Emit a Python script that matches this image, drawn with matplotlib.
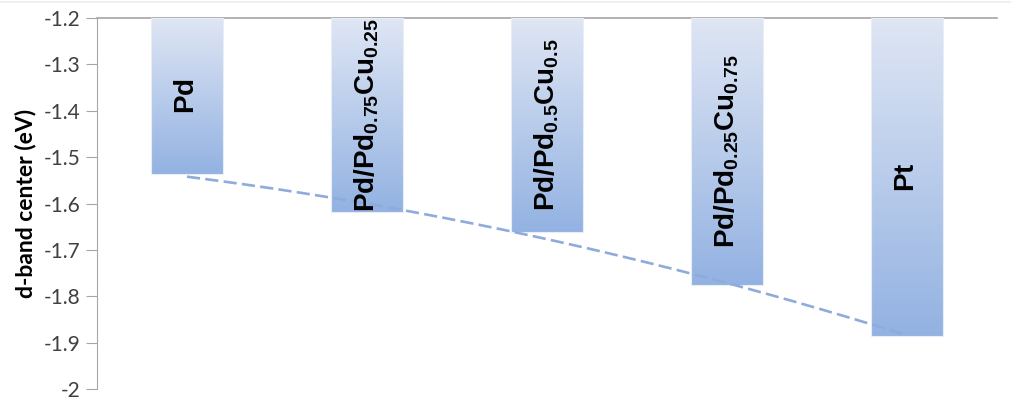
import numpy as np
import matplotlib
matplotlib.use("Agg")
import matplotlib.pyplot as plt
from matplotlib.colors import LinearSegmentedColormap
from matplotlib.lines import Line2D

# catalysts and their d-band centre (eV)
labels = [r"$\mathbf{Pd}$",
          r"$\mathbf{Pd/Pd_{0.75}Cu_{0.25}}$",
          r"$\mathbf{Pd/Pd_{0.5}Cu_{0.5}}$",
          r"$\mathbf{Pd/Pd_{0.25}Cu_{0.75}}$",
          r"$\mathbf{Pt}$"]
dband = [-1.536, -1.618, -1.661, -1.775, -1.885]

plt.rcParams['mathtext.fontset'] = 'custom'
plt.rcParams['mathtext.rm'] = 'Liberation Sans'
plt.rcParams['mathtext.it'] = 'Liberation Sans:italic'
plt.rcParams['mathtext.bf'] = 'Liberation Sans:bold'

fig = plt.figure(figsize=(10.24, 4.12), dpi=100)
ax = fig.add_axes([0.0947, 0.0558, 0.8789, 0.9005])

# faint chart-area border at the very top
fig.add_artist(Line2D([0, 0.986], [0.996, 0.996], color='#ececec', lw=1.2,
                      transform=fig.transFigure))

ymin, ymax = -2.0, -1.2
x_pos = np.arange(1, len(dband) + 1)
bw = 0.395

cmap = LinearSegmentedColormap.from_list("blues", ["#93b2e2", "#dfe6f4"])
grad = np.linspace(0, 1, 256).reshape(-1, 1)

bars = ax.bar(x_pos, np.array(dband) - ymax, bw, bottom=ymax,
              facecolor='none', edgecolor='#e8eef8', linewidth=0.8, zorder=3)
for b, v in zip(bars, dband):
    x0 = b.get_x()
    im = ax.imshow(grad, cmap=cmap, origin='lower', aspect='auto',
                   extent=[x0, x0 + bw, v, ymax], zorder=2)
    im.set_clip_path(b)

for xi, v, lab in zip(x_pos, dband, labels):
    ax.text(xi, (v + ymax) / 2, lab, rotation=90, ha='center', va='center',
            fontsize=20, color='black', family='Liberation Sans', zorder=5)

# 2nd order trendline like excel
coef = np.polyfit(x_pos, dband, 2)
xf = np.linspace(x_pos[0], x_pos[-1], 200)
ax.plot(xf, np.polyval(coef, xf), color='#8eabdc', lw=1.9,
        dashes=(5, 2), zorder=4)

ax.set_xlim(0.5, len(dband) + 0.5)
ax.set_ylim(ymin, ymax)
ax.set_yticks(np.arange(-2.0, -1.15, 0.1))
ax.set_yticklabels(["-2", "-1.9", "-1.8", "-1.7", "-1.6", "-1.5", "-1.4", "-1.3", "-1.2"])
ax.set_xticks([])

for s in ['right', 'bottom']:
    ax.spines[s].set_visible(False)
ax.spines['left'].set_color('#a6a6a6')
ax.spines['top'].set_color('#a6a6a6')
ax.spines['top'].set_linewidth(1.2)
ax.tick_params(axis='y', direction='out', length=8, color='#a6a6a6',
               labelsize=15, labelcolor='#404040', pad=4)
for t in ax.get_yticklabels():
    t.set_family('Lato')

ax.set_ylabel('d-band center (eV)', fontsize=16.5, fontweight='bold',
              family='Lato', labelpad=5)

plt.savefig("out.png", dpi=100)
